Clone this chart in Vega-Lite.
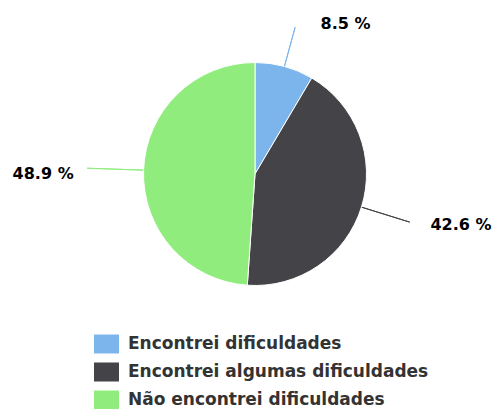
{
  "$schema": "https://vega.github.io/schema/vega-lite/v6.json",
  "width": 482,
  "height": 348,
  "autosize": {"type": "none"},
  "padding": {"left": 14, "top": 0, "right": 0, "bottom": 61},
  "background": "white",
  "config": {"view": {"stroke": null}, "font": "DejaVu Sans"},
  "data": {"values": [
    {"answer": "Encontrei dificuldades", "pct": 8.5, "label": "8.5 %"},
    {"answer": "Encontrei algumas dificuldades", "pct": 42.6, "label": "42.6 %"},
    {"answer": "Não encontrei dificuldades", "pct": 48.9, "label": "48.9 %"}
  ]},
  "encoding": {
    "theta": {"field": "pct", "type": "quantitative", "stack": true},
    "order": {"field": "pct", "type": "quantitative", "sort": "ascending"}
  },
  "layer": [
    {
      "mark": {
        "type": "arc",
        "innerRadius": 110,
        "outerRadius": {"expr": "datum.pct < 10 ? 152 : (datum.pct < 45 ? 162 : 168)"},
        "padAngle": 3,
        "fill": null,
        "filled": false,
        "strokeWidth": 1
      },
      "encoding": {
        "stroke": {
          "field": "label",
          "type": "nominal",
          "sort": null,
          "scale": {
            "domain": ["8.5 %", "42.6 %", "48.9 %"],
            "range": ["#7cb5ec", "#434348", "#90ed7d"]
          },
          "legend": null
        }
      }
    },
    {
      "mark": {"type": "arc", "outerRadius": 111.5, "stroke": "white", "strokeWidth": 1},
      "encoding": {
        "color": {
          "field": "answer",
          "type": "nominal",
          "sort": null,
          "scale": {
            "domain": ["Encontrei dificuldades", "Encontrei algumas dificuldades", "Não encontrei dificuldades"],
            "range": ["#7cb5ec", "#434348", "#90ed7d"]
          },
          "legend": {
            "title": null,
            "orient": "none",
            "legendX": 82.5,
            "legendY": 334,
            "padding": 0,
            "symbolType": "M-1.25,-0.95H1.25V0.95H-1.25Z",
            "symbolSize": 400,
            "symbolStrokeWidth": 0,
            "symbolOpacity": 1,
            "labelFont": "DejaVu Sans",
            "labelFontSize": 17,
            "labelFontWeight": "bold",
            "labelColor": "#333333",
            "labelOffset": 11.5,
            "rowPadding": 8,
            "labelLimit": 400
          }
        }
      }
    },
    {
      "mark": {
        "type": "text",
        "radius": {"expr": "datum.pct < 10 ? 150 : 200"},
        "dx": {"expr": "datum.pct < 10 ? 51 : (datum.pct < 45 ? 15 : -12)"},
        "dy": {"expr": "datum.pct < 10 ? -5 : (datum.pct < 45 ? -8.5 : 6.5)"},
        "font": "DejaVu Sans",
        "fontSize": 16,
        "fontWeight": "bold",
        "fill": "#000000",
        "baseline": "middle",
        "align": "center"
      },
      "encoding": {"text": {"field": "label"}}
    }
  ]
}
